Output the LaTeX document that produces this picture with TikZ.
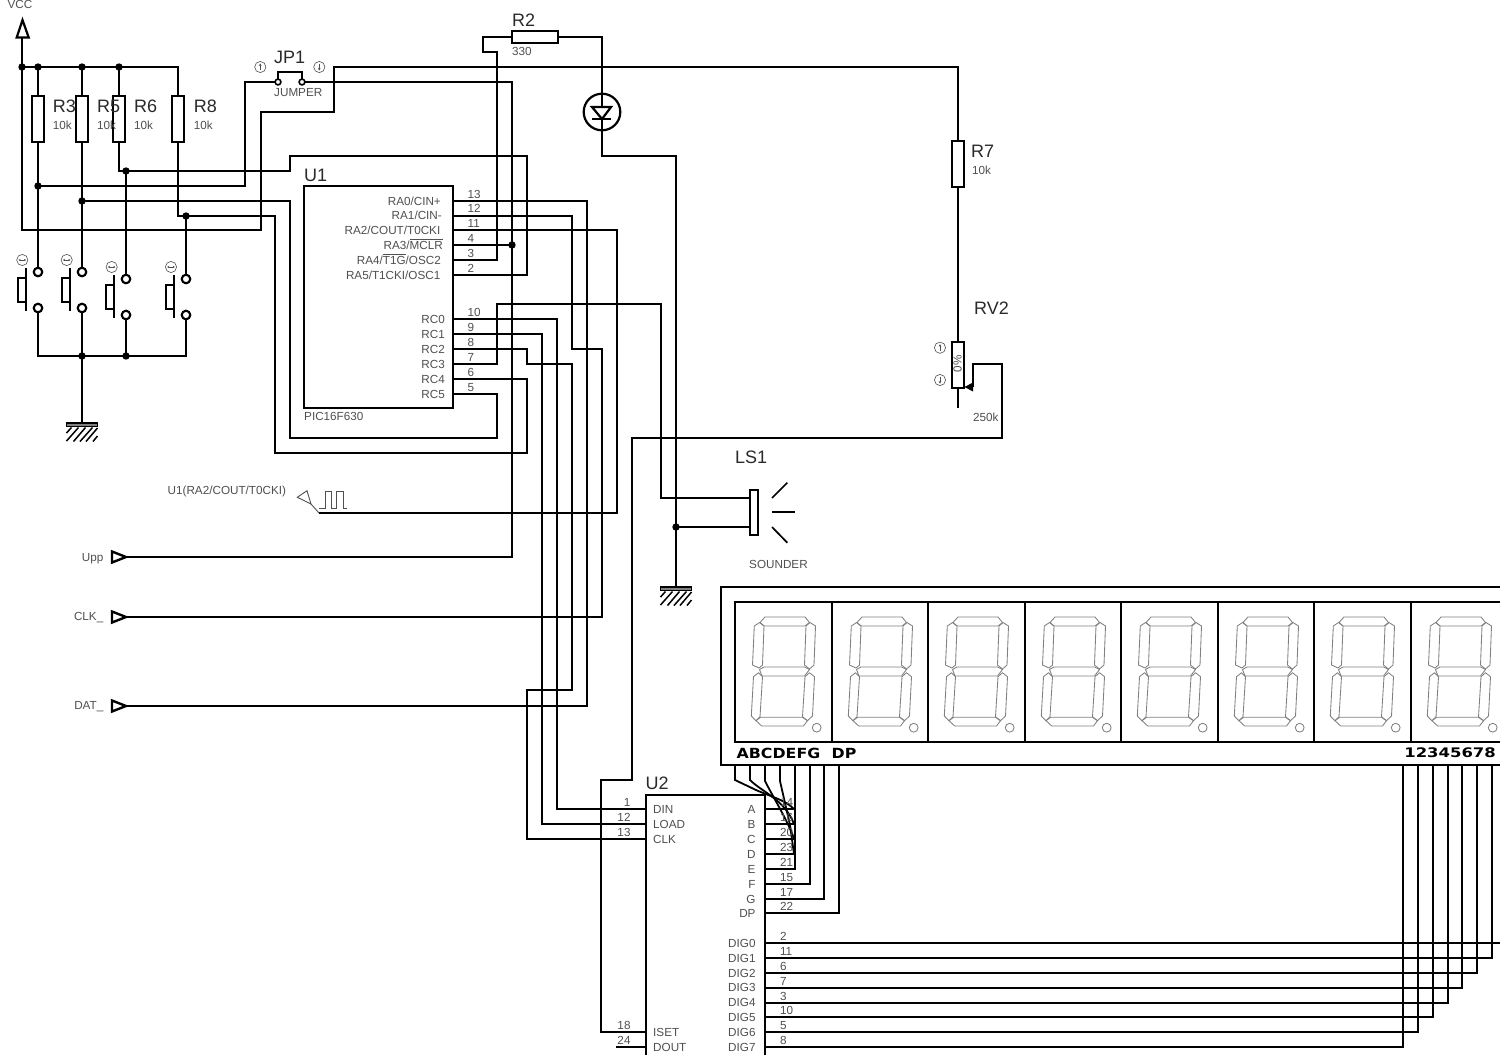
\documentclass[tikz,border=0pt]{standalone}
\usepackage{fontspec}
\setmainfont{Liberation Sans}
\newfontfamily\dispfont{DejaVu Sans}
\usetikzlibrary{arrows.meta}
\definecolor{txtA}{HTML}{2A2A2A}
\definecolor{txtB}{HTML}{505050}
\definecolor{segc}{HTML}{808080}
\newcommand{\ovl}[1]{$\overline{\hbox{#1}}$}
\tikzset{
  wire/.style={line width=2.2pt,line join=miter,draw=black},
  thinw/.style={line width=1.2pt,draw=txtB},
  resistor/.style={draw=black,line width=2.2pt,fill=white,rectangle,inner sep=0pt,outer sep=0pt,minimum width=12pt,minimum height=46pt},
  terminal/.style={circle,draw=black,fill=white,line width=2pt,inner sep=0pt,outer sep=0pt,minimum size=8.4pt},
  jterminal/.style={circle,draw=black,fill=white,line width=1.6pt,inner sep=0pt,outer sep=0pt,minimum size=5.8pt},
  dot/.style={circle,fill=black,inner sep=0pt,minimum size=7.4pt},
  lblbig/.style={inner sep=0pt,text=txtA,font=\fontsize{18}{18}\selectfont,anchor=west,text height=13pt,text depth=0pt},
  lblsmall/.style={inner sep=0pt,text=txtB,font=\fontsize{11.7}{12}\selectfont,text height=8.4pt,text depth=0pt},
  chipbox/.style={draw=black,line width=2.2pt,rectangle,inner sep=0pt,outer sep=0pt},
  disptext/.style={inner sep=0pt,text=black,font=\dispfont\bfseries\fontsize{15.5}{16}\selectfont},
  iconup/.pic={\draw[txtB,line width=.6pt] (0,0) circle (5.6);\draw[txtB,line width=.8pt,-{Stealth[length=2.6pt,width=2.6pt]}] (0,3.4) -- (0,-3.6);},
  icondown/.pic={\draw[txtB,line width=.6pt] (0,0) circle (5.6);\draw[txtB,line width=.8pt,-{Stealth[length=2.6pt,width=2.6pt]}] (0,-3.4) -- (0,3.6);},
  iconlr/.pic={\draw[txtB,line width=.6pt] (0,0) circle (5.6);\draw[txtB,line width=.8pt,{Stealth[length=2.2pt,width=2.4pt]}-{Stealth[length=2.2pt,width=2.4pt]}] (-3.8,0) -- (3.8,0);},
  gndsym/.pic={
    \draw[black,fill=segc,line width=1.2pt] (-15.5,0) rectangle (15.5,3.6);
    \draw[black,line width=1.5pt] (-10.5,4.5)--(-15.5,10) (-3.5,4.5)--(-15.5,18) (3.5,4.5)--(-8.5,18.5) (10.5,4.5)--(-2,18.5) (15.5,5)--(4,18.5) (15.5,13)--(11,18.5);
  },
}
\begin{document}
\begin{tikzpicture}[x=1pt,y=-1pt]
\useasboundingbox (0,0) rectangle (1500,1055);
\clip (0,0) rectangle (1500,1055);
\fill[white] (0,0) rectangle (1500,1055);

% ---------- components
\node[resistor] (R3) at (38,119) {};
\node[resistor] (R5) at (82,119) {};
\node[resistor] (R6) at (119,119) {};
\node[resistor] (R8) at (178,119) {};
\node[resistor] (R7) at (958,164) {};
\node[resistor] (RV) at (958,365) {};
\node[resistor,minimum width=46pt,minimum height=12pt] (R2) at (535,37) {};
\node[chipbox,minimum width=149pt,minimum height=222pt] (U1) at (378.5,297) {};
\node[chipbox,minimum width=119pt,minimum height=320pt] (U2) at (705.5,955) {};
\node[chipbox,minimum width=900pt,minimum height=178pt] (DSP) at (1171,676) {};
\node[jterminal] (jl) at (278,82) {};
\node[jterminal] (jr) at (302,82) {};
\node[resistor,minimum width=8pt,minimum height=45pt] (LS) at (754,512.5) {};

% seven-segment digits
\foreach \k/\w [count=\i from 0] in {735/97,832/96,928/97,1025/96,1121/97,1218/96,1314/97,1411/96}{
  \node[chipbox,minimum width=\w pt,minimum height=140pt,anchor=north west] (cell\i) at (\k,602) {};
  \begin{scope}[shift={(\k,0)},segc,line width=.85pt,line join=round]
    \draw (25,622.5)--(30,617)--(70,617)--(74.5,622.5)--(70,626)--(29,626)--cycle;
    \draw (19.3,626)--(24.5,622.5)--(29,626)--(27.5,665)--(24,668)--(17.5,665)--cycle;
    \draw (71,626)--(75,622.5)--(80.5,626)--(79,665)--(74.5,669)--(69.5,665)--cycle;
    \draw (24.5,669.5)--(29,667)--(69.5,667)--(74.5,669.5)--(69.5,676)--(27,676)--cycle;
    \draw (18.5,676.7)--(23.5,672.7)--(27.5,676.7)--(25,716.7)--(21,720.7)--(16.3,716)--cycle;
    \draw (70,676.7)--(74.5,672.7)--(79.5,676.7)--(77.5,716)--(72.5,720.7)--(67.5,716.7)--cycle;
    \draw (21,720.7)--(25.5,717.3)--(67.5,717.3)--(72.5,720.7)--(68.5,726)--(26.7,726)--cycle;
    \draw (81.7,727.7) circle (4.4);
  \end{scope}
}

% push-buttons
\foreach \n/\xx/\yy/\ix in {1/38/272/22.3,2/82/272/66.7,3/126/279/111.7,4/186/279/171}{
  \node[terminal] (s\n a) at (\xx,\yy) {};
  \node[terminal] (s\n b) at (\xx,\yy+36) {};
  \draw[wire] (\xx-12,\yy-4) -- (\xx-12,\yy+39);
  \draw[wire,line width=2pt] (\xx-12,\yy+6) -- (\xx-20,\yy+6) -- (\xx-20,\yy+30) -- (\xx-12,\yy+30);
  \pic at (\ix,\yy-12) {iconlr};
}

% coordinates
\coordinate (vccT) at (22,37);
\coordinate (jV) at (22,67);
\coordinate (j3) at (38,67);
\coordinate (j5) at (82,67);
\coordinate (j6) at (119,67);
\coordinate (j3b) at (38,186);
\coordinate (j5b) at (82,201);
\coordinate (j6b) at (126,171);
\coordinate (j8b) at (186,216);
\coordinate (jg1) at (82,356);
\coordinate (jg2) at (126,356);
\coordinate (jM) at (512,245);
\coordinate (jS) at (676,527);
\coordinate (g1) at (82,423);
\coordinate (g2) at (676,587);
\coordinate (led) at (602,112);
\foreach \n/\y in {RAa/201,RAb/216,RAc/230,RAd/245,RAe/260,RAf/275,RCa/319,RCb/334,RCc/349,RCd/364,RCe/379,RCf/394}
  \coordinate (\n) at (453,\y);
\coordinate (vA) at (735,765);\coordinate (vB) at (750,765);\coordinate (vC) at (765,765);\coordinate (vD) at (780,765);
\coordinate (vE) at (795,765);\coordinate (vF) at (810,765);\coordinate (vG) at (824,765);\coordinate (vP) at (839,765);
\foreach \n/\y in {A/809,B/824,C/839,D/854,E/869,F/884,G/899,P/913,N/943,O/958,Q/973,R/988,S/1003,T/1017,U/1032,V/1047}
  \coordinate (u\n) at (765,\y);
\foreach \n/\y in {din/809,load/824,clk/839,iset/1032,dout/1047}
  \coordinate (u\n) at (646,\y);

% ---------- wires
\begin{scope}[wire]
\draw (vccT) -- (jV) -- (22,230) -- (261,230) -- (261,112) -- (334,112) -- (334,67) -- (958,67) -- (R7.north);
\draw (jV) -- (178,67) -- (R8.north);
\draw (j3) -- (R3.north);
\draw (j5) -- (R5.north);
\draw (j6) -- (R6.north);
\draw (R3.south) -- (s1a);
\draw (R5.south) -- (s2a);
\draw (R6.south) -- (119,171) -- (290,171) -- (290,156) -- (527,156) -- (527,275) -- (RAf);
\draw (j6b) -- (s3a);
\draw (R8.south) -- (178,216) -- (275,216) -- (275,453) -- (527,453) -- (527,379) -- (RCe);
\draw (j8b) -- (s4a);
\draw (j3b) -- (245,186) -- (245,82) -- (jl);
\draw (j5b) -- (290,201) -- (290,438) -- (497,438) -- (497,394) -- (RCf);
\draw (jr) -- (512,82) -- (512,557) -- (125,557);
\draw (RAd) -- (jM);
\draw (s1b) -- (38,356) -- (186,356) -- (s4b);
\draw (s2b) -- (jg1) -- (g1);
\draw (s3b) -- (jg2);
\draw (RAa) -- (587,201) -- (587,706) -- (125,706);
\draw (RAb) -- (572,216) -- (572,349) -- (602,349) -- (602,617) -- (125,617);
\draw (RAc) -- (617,230) -- (617,513) -- (319,513);
\draw (RAe) -- (497,260) -- (497,52) -- (483,52) -- (483,37) -- (R2.west);
\draw (RCa) -- (557,319) -- (557,809) -- (udin);
\draw (RCb) -- (542,334) -- (542,824) -- (uload);
\draw (RCc) -- (527,349) -- (527,364) -- (572,364) -- (572,690) -- (527,690) -- (527,839) -- (uclk);
\draw (RCd) -- (497,364) -- (497,304) -- (661,304) -- (661,498) -- (750,498);
\draw (jS) -- (750,527);
\draw (R2.east) -- (602,37) -- (602,107);
\draw (602,119) -- (602,156) -- (676,156) -- (jS) -- (g2);
\draw (R7.south) -- (RV.north);
\draw (RV.south) -- (958,408);
\draw (973,387) -- (973,364) -- (1002,364) -- (1002,438) -- (632,438) -- (632,780) -- (601,780) -- (601,1032) -- (uiset);
\draw (616,1047) -- (udout);
% display to U2
\draw (uA) -- (794,809);\draw (uB) -- (794,824);\draw (uC) -- (794,839);\draw (uD) -- (794,854);
\draw[line width=1.8pt] (vA) -- (735,780) -- (756,790) .. controls (772,797) and (785,800) .. (794,809);
\draw[line width=1.8pt] (vB) -- (750,780) .. controls (762,792) and (785,800) .. (794,824);
\draw[line width=1.8pt] (vC) -- (765,781) .. controls (772,795) and (790,825) .. (794,839);
\draw[line width=1.8pt] (vD) -- (780,781) -- (790,825) -- (794,854);
\draw (vE) -- (795,869) -- (uE);
\draw (vF) -- (810,884) -- (uF);
\draw (vG) -- (824,899) -- (uG);
\draw (vP) -- (839,913) -- (uP);
\draw (uN) -- (1500,943);
\draw (uO) -- (1492,958) -- (1492,765);
\draw (uQ) -- (1477,973) -- (1477,765);
\draw (uR) -- (1462,988) -- (1462,765);
\draw (uS) -- (1448,1003) -- (1448,765);
\draw (uT) -- (1433,1017) -- (1433,765);
\draw (uU) -- (1418,1032) -- (1418,765);
\draw (uV) -- (1403,1047) -- (1403,765);
\end{scope}

% junction dots
\foreach \n in {jV,j3,j5,j6,j3b,j5b,j6b,j8b,jg1,jg2,jM,jS}
  \node[dot] (dot\n) at (\n) {};

% terminals on top again
\foreach \n/\xx/\yy in {1/38/272,2/82/272,3/126/279,4/186/279}{
  \node[terminal] (t\n a) at (\xx,\yy) {};
  \node[terminal] (t\n b) at (\xx,\yy+36) {};
}

% VCC terminal
\draw[wire] (22.5,20) -- (16.7,37.5) -- (28.7,37.5) -- cycle;
% jumper bracket
\draw[wire,line width=1.8pt] (278,78.5) -- (278,72) -- (302,72) -- (302,78.5);
% LED
\draw[wire] (led) circle (18.3);
\draw[wire] (592,107) -- (611,107) -- (602,119) -- cycle;
\draw[wire] (592,119) -- (611,119);
% sounder rays
\draw[wire,line width=1.7pt] (772,498) -- (787.3,482.7);
\draw[wire,line width=1.7pt] (772,512) -- (795,512);
\draw[wire,line width=1.7pt] (772,527) -- (787.3,542.7);
% wiper arrow
\fill[black] (964.5,387) -- (973,382.5) -- (973,391.5) -- cycle;
% inputs
\foreach \y in {557,617,706}
  \draw[wire,line width=2.4pt,fill=white] (112,\y-5.5) -- (126,\y) -- (112,\y+5.5) -- cycle;
% probe
\draw[thinw,line width=.9pt] (297.3,497.3) -- (307,490.7) -- (311,504) -- cycle;
\draw[thinw,line width=.9pt] (311,504) -- (319,513);
\draw[thinw,line width=.9pt] (319.3,508.3) -- (325,508.3) -- (325,491.7) -- (331,491.7) -- (331,508.3) -- (336.7,508.3) -- (336.7,491.7) -- (343.3,491.7) -- (343.3,508.3) -- (347.3,508.3);
% grounds
\pic at (g1) {gndsym};
\pic at (g2) {gndsym};
% icons
\pic at (260.3,67) {iconup};
\pic at (319.3,67) {icondown};
\pic at (940,347.7) {iconup};
\pic at (940,380) {icondown};

% ---------- texts
\node[lblbig] (tU1) at (304,175) {U1};
\node[lblbig] (tU2) at (645.5,783) {U2};
\node[lblbig] (tR3) at (52.7,106) {R3};
\node[lblbig] (tR5) at (97,106) {R5};
\node[lblbig] (tR6) at (134,106) {R6};
\node[lblbig] (tR8) at (193.7,106) {R8};
\node[lblbig] (tR7) at (971,151) {R7};
\node[lblbig] (tR2) at (512,20) {R2};
\node[lblbig] (tRV) at (974,308) {RV2};
\node[lblbig] (tLS) at (735,456.7) {LS1};
\node[lblbig] (tJP) at (274,56.5) {JP1};
\node[lblsmall,anchor=west] (vR3) at (52.7,125) {10k};
\node[lblsmall,anchor=west] (vR5) at (97,125) {10k};
\node[lblsmall,anchor=west] (vR6) at (134,125) {10k};
\node[lblsmall,anchor=west] (vR8) at (193.7,125) {10k};
\node[lblsmall,anchor=west] (vR7) at (972,170) {10k};
\node[lblsmall,anchor=west] (vR2) at (512,51.5) {330};
\node[lblsmall,anchor=west] (vRV) at (973,417) {250k};
\node[lblsmall,anchor=west] (vJP) at (274,92.7) {JUMPER};
\node[lblsmall,anchor=west] (vLS) at (749,564.5) {SOUNDER};
\node[lblsmall,anchor=west] (vU1) at (304,416.7) {PIC16F630};
\node[lblsmall,anchor=west] (tVCC) at (7.3,4.7) {VCC};
\node[lblsmall,anchor=east] (tUpp) at (103.5,557) {Upp};
\node[lblsmall,anchor=east] (tCLK) at (103.5,616.5) {CLK\_};
\node[lblsmall,anchor=east] (tDAT) at (103.5,705.7) {DAT\_};
\node[lblsmall,anchor=west] (tPrb) at (167.5,490) {U1(RA2/COUT/T0CKI)};
\node[lblsmall,rotate=90] (tPct) at (957.5,364) {0\%};

% U1 pins
\foreach \n/\y/\xe/\t/\num in {
  a/201/441/{RA0/CIN+}/13,
  b/215.5/442/{RA1/CIN-}/12,
  c/230/440.5/{RA2/COUT/T0CKI}/11,
  d/245/443/{RA3/\ovl{MCLR}}/4,
  e/260/441/{RA4/\ovl{T1G}/OSC2}/3,
  f/275/440.5/{RA5/T1CKI/OSC1}/2,
  g/319/445/{RC0}/10,
  h/334/445/{RC1}/9,
  i/349/445/{RC2}/8,
  j/364/445/{RC3}/7,
  k/379/445/{RC4}/6,
  l/394/445/{RC5}/5}{
  \node[lblsmall,anchor=east] (un\n) at (\xe,\y) {\t};
  \node[lblsmall,anchor=west] (uq\n) at (467.5,\y-7) {\num};
}
% U2 left pins
\foreach \n/\y/\t/\num/\xn in {
  a/809/DIN/1/627,
  b/824/LOAD/12/624,
  c/839/CLK/13/624,
  d/1032/ISET/18/624,
  e/1047/DOUT/24/624}{
  \node[lblsmall,anchor=west] (vn\n) at (653,\y) {\t};
  \node[lblsmall] (vq\n) at (\xn,\y-6.7) {\num};
}
% U2 right pins
\foreach \n/\y/\t/\num in {
  a/809/A/14,b/824/B/16,c/839/C/20,d/854/D/23,e/869/E/21,f/884/F/15,g/899/G/17,h/913.3/DP/22,
  i/943.3/DIG0/2,j/958.3/DIG1/11,k/973/DIG2/6,l/987.7/DIG3/7,m/1002.7/DIG4/3,n/1017.3/DIG5/10,o/1032.3/DIG6/5,p/1047/DIG7/8}{
  \node[lblsmall,anchor=east] (wn\n) at (755.7,\y) {\t};
  \node[lblsmall,anchor=west] (wq\n) at (779.8,\y-6.7) {\num};
}
% display labels
\node[disptext,anchor=west] (dA) at (736.5,753) {\scalebox{1.02}[.9]{ABCDEFG}};
\node[disptext,anchor=west] (dP) at (831.5,753) {\scalebox{1.02}[.9]{DP}};
\node[disptext,anchor=east] (dN) at (1496,753) {\scalebox{1.06}[.85]{12345678}};
\end{tikzpicture}
\end{document}
